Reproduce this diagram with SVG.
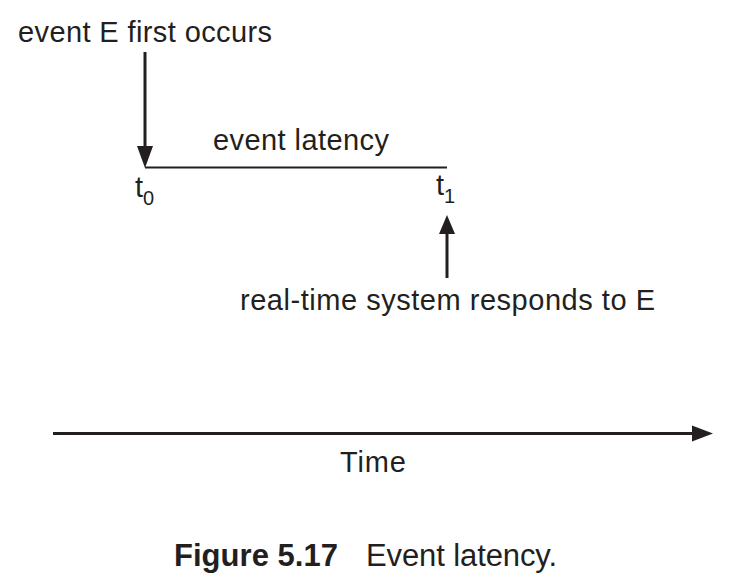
<svg xmlns="http://www.w3.org/2000/svg" width="738" height="581" viewBox="0 0 738 581">
<style>
text{font-family:"Liberation Sans",Arial,sans-serif;fill:#231f20;font-size:29px}
.sub{font-size:20px}
.cap{font-size:31px}
.ln{stroke:#231f20;fill:none}
.hd{fill:#231f20;stroke:none}
</style>
<rect width="738" height="581" fill="#fff"/>
<g id="connectors">
<line class="ln" x1="145" y1="52" x2="145" y2="150" stroke-width="3"/>
<polygon class="hd" points="137,146 153,146 145,168"/>
<line class="ln" x1="145" y1="167.5" x2="447" y2="167.5" stroke-width="2"/>
<line class="ln" x1="447" y1="278" x2="447" y2="230" stroke-width="3"/>
<polygon class="hd" points="439,234 455,234 447,215"/>
<line class="ln" x1="53" y1="433.5" x2="695" y2="433.5" stroke-width="3"/>
<polygon class="hd" points="692,425.5 692,441.5 713,433.5"/>
</g>
<g id="event-first"><text x="18" y="42" textLength="254" lengthAdjust="spacing">event E first occurs</text></g>
<g id="latency"><text x="213" y="150" textLength="176" lengthAdjust="spacing">event latency</text></g>
<g id="t0"><text x="135" y="197">t<tspan class="sub" dy="8">0</tspan></text></g>
<g id="t1"><text x="436" y="195">t<tspan class="sub" dy="8">1</tspan></text></g>
<g id="responds"><text x="240" y="310" textLength="415" lengthAdjust="spacing">real-time system responds to E</text></g>
<g id="time"><text x="340" y="472" textLength="66" lengthAdjust="spacing">Time</text></g>
<g id="caption"><text class="cap" x="174" y="566" font-weight="bold" textLength="164" lengthAdjust="spacing">Figure 5.17</text><text class="cap" x="366" y="566" textLength="191" lengthAdjust="spacing">Event latency.</text></g>
</svg>
